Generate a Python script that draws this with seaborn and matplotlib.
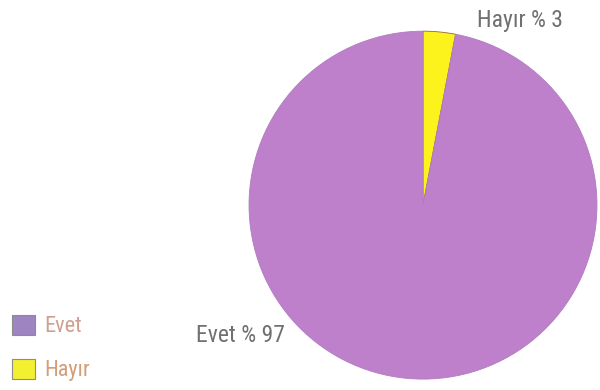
import matplotlib
matplotlib.use("Agg")
import matplotlib.pyplot as plt
from matplotlib.patches import Patch
import seaborn as sns

# Survey answers and their shares (percent)
categories = ["Hayır", "Evet"]
shares = [3, 97]
legend_order = ["Evet", "Hayır"]

sns.set_theme(style="white")
plt.rcParams["font.family"] = ["Roboto Condensed", "DejaVu Sans"]

colors = {"Evet": "#bf80cb", "Hayır": "#fcf21c"}
legend_face = {"Evet": "#9f84c2", "Hayır": "#f2f030"}
legend_text = {"Evet": "#cf9f90", "Hayır": "#d39d78"}

fig = plt.figure(figsize=(6.0, 3.9), dpi=100)
fig.patch.set_facecolor("white")

ax = fig.add_axes([0.409, 0.019, 0.592, 0.910])
wedges, _ = ax.pie(
    shares,
    colors=[colors[c] for c in categories],
    startangle=90,
    counterclock=False,
    radius=1.0,
    wedgeprops=dict(edgecolor="#8a6a3a", linewidth=0.6),
)
wedges[1].set_edgecolor("#b07cc0")
ax.set_xlim(-1.02, 1.02)
ax.set_ylim(-1.02, 1.02)
ax.set_aspect("equal")
ax.axis("off")

label_pos = {"Hayır": (0.56, 1.06), "Evet": (-1.05, -0.75)}
for cat, val in zip(categories, shares):
    x, y = label_pos[cat]
    ax.text(x, y, f"{cat} % {val}", ha="center", va="center",
            fontsize=17, color="#707070", clip_on=False)

handles = [Patch(facecolor=legend_face[c], edgecolor="#8c8c8c", linewidth=0.8)
           for c in legend_order]
leg = fig.legend(handles, legend_order, loc="lower left",
                 bbox_to_anchor=(0.02, 0.022), frameon=False,
                 borderpad=0, borderaxespad=0,
                 fontsize=16, handlelength=1.05, handleheight=1.05,
                 handletextpad=0.4, labelspacing=0.95)
for t, c in zip(leg.get_texts(), legend_order):
    t.set_color(legend_text[c])

fig.savefig("out.png", dpi=100, facecolor="white")
